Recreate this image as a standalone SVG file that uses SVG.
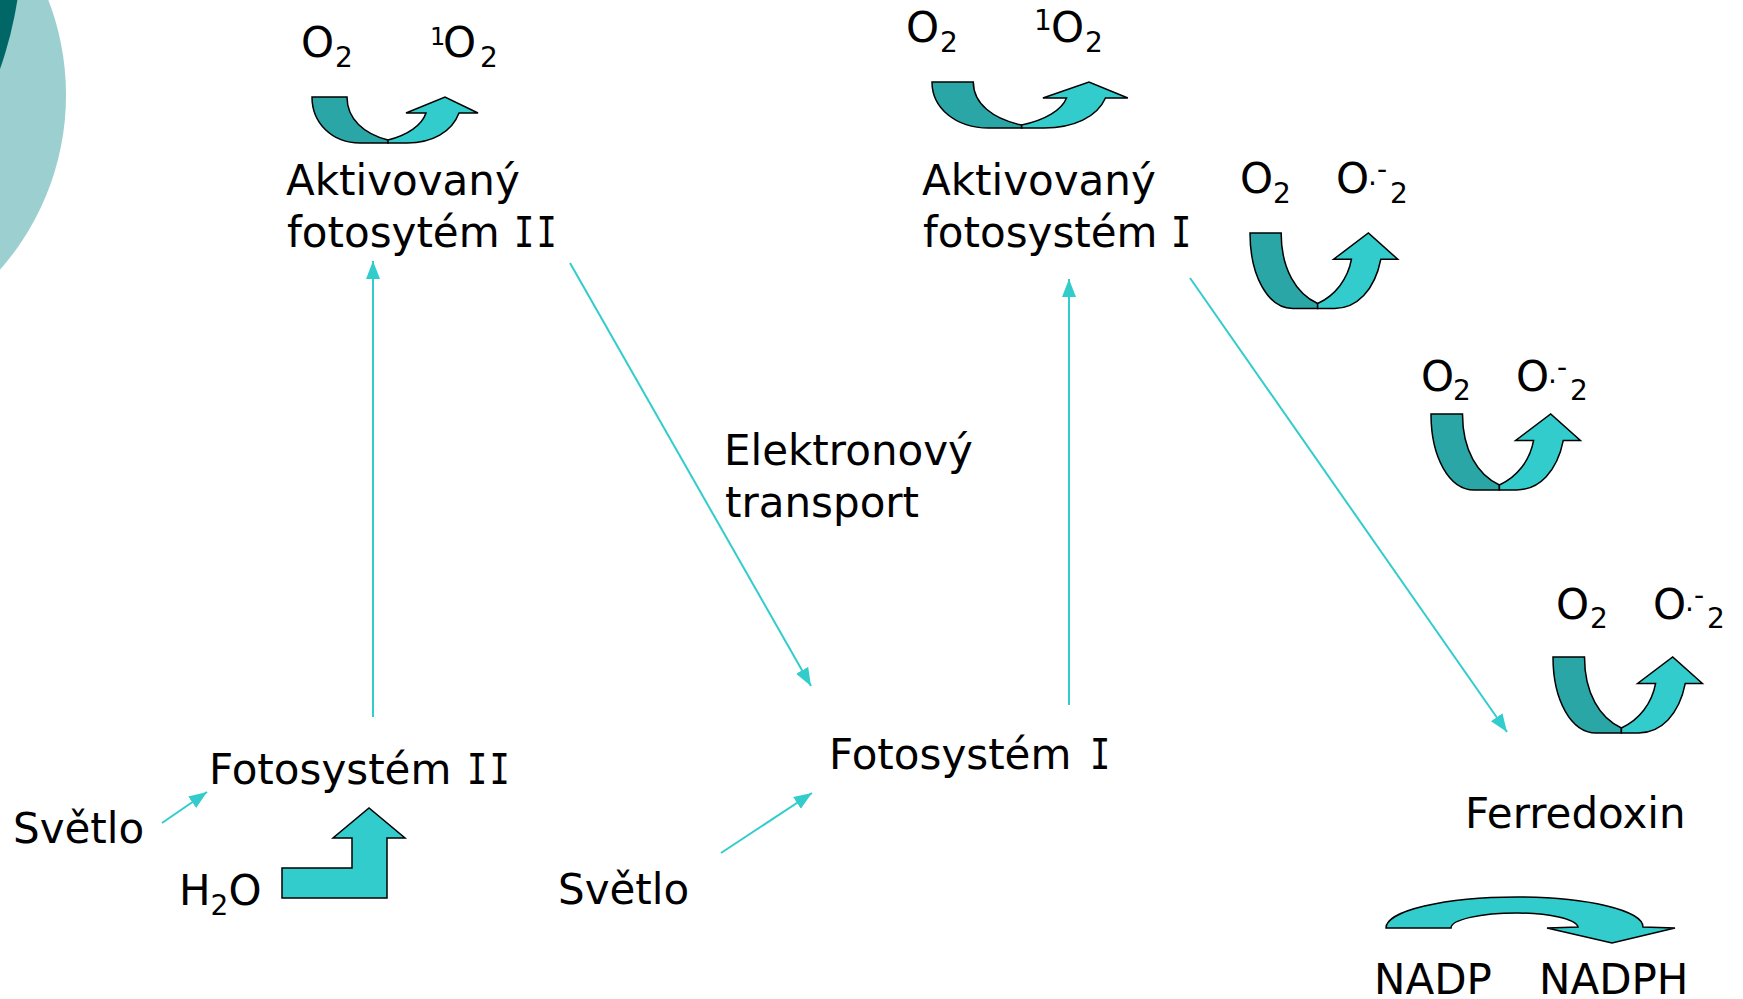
<svg xmlns="http://www.w3.org/2000/svg" xmlns:xlink="http://www.w3.org/1999/xlink" width="1743" height="999" viewBox="0 0 1743 999">
  <style>
    .t { font-family: "DejaVu Sans", Verdana, "Liberation Sans", sans-serif; font-size: 42px; fill: #000; }
    .s { font-size: 28px; }
    .rn { font-family: "DejaVu Sans Mono", "Liberation Mono", monospace; letter-spacing: 3px; }
    .link { stroke: #33CCCC; stroke-width: 2; fill: none; marker-end: url(#head); }
    .band { stroke: #000; stroke-width: 1.5; stroke-linejoin: miter; }
    .back { fill: #2BA6A6; }
    .front { fill: #33CCCC; }
  </style>
  <defs>
    <marker id="head" markerUnits="userSpaceOnUse" markerWidth="20" markerHeight="16" refX="18" refY="7" orient="auto">
      <path d="M0,0 L18,7 L0,14 Z" fill="#33CCCC"/>
    </marker>
    <!-- curved up arrow: shaded back band + front band with head, 166 x 46 base box -->
    <g id="curl">
      <path class="band back" vector-effect="non-scaling-stroke" d="M0,0 L35,0 C35,22 52,37 76,43 L76,46 L48,46 C20,46 0,26 0,0 Z"/>
      <path class="band front" vector-effect="non-scaling-stroke" d="M76,43 C96,38 110,28 114,16 L94,16 L133,0 L166,16 L147,16 C140,35 120,46 95,46 L76,46 Z"/>
    </g>
  </defs>

  <rect width="1743" height="999" fill="#fff"/>

  <!-- corner decoration -->
  <g id="corner">
    <circle cx="-198" cy="95" r="264" fill="#9CCFCF"/>
    <circle cx="-367" cy="-60" r="389" fill="#006666"/>
  </g>

  <!-- connectors -->
  <g id="connectors">
    <line class="link" x1="373" y1="717" x2="373" y2="261"/>
    <line class="link" x1="1069" y1="705" x2="1069" y2="279"/>
    <line class="link" x1="570" y1="263" x2="811" y2="686"/>
    <line class="link" x1="1190" y1="278" x2="1507" y2="732"/>
    <line class="link" x1="162" y1="823" x2="207" y2="792"/>
    <line class="link" x1="721" y1="853" x2="812" y2="793"/>
  </g>

  <!-- PS II activated, singlet oxygen -->
  <g id="ps2-singlet">
    <text class="t" x="301" y="57">O</text>
    <text class="t s" x="335" y="67">2</text>
    <text class="t" x="430" y="45" style="font-size:24px">1</text>
    <text class="t" x="443" y="57">O</text>
    <text class="t s" x="480" y="67">2</text>
    <use xlink:href="#curl" transform="translate(312,97)"/>
  </g>
  <g id="ps2-active">
    <text class="t" x="286" y="195">Aktivovaný</text>
    <text class="t" x="287" y="247">fotosytém</text>
    <text class="t rn" transform="translate(514,247) scale(0.8,1)">II</text>
  </g>

  <!-- PS I activated, singlet oxygen -->
  <g id="ps1-singlet">
    <text class="t" x="906" y="42">O</text>
    <text class="t s" x="940" y="52">2</text>
    <text class="t s" x="1034" y="30">1</text>
    <text class="t" x="1051" y="42">O</text>
    <text class="t s" x="1085" y="52">2</text>
    <use xlink:href="#curl" transform="translate(932,82) scale(1.18,1)"/>
  </g>
  <g id="ps1-active">
    <text class="t" x="922" y="195">Aktivovaný</text>
    <text class="t" x="923" y="247">fotosystém</text>
    <text class="t rn" transform="translate(1171,247) scale(0.8,1)">I</text>
  </g>

  <!-- superoxide formation sites -->
  <g id="superoxide-1">
    <text class="t" x="1240" y="193">O</text>
    <text class="t s" x="1273" y="203">2</text>
    <text class="t" x="1336" y="193">O</text>
    <text class="t s" x="1368" y="185">.</text>
    <text class="t s" x="1377" y="179">-</text>
    <text class="t s" x="1390" y="203">2</text>
    <use xlink:href="#curl" transform="translate(1250,233) scale(0.89,1.64)"/>
  </g>
  <g id="superoxide-2">
    <text class="t" x="1421" y="391">O</text>
    <text class="t s" x="1453" y="400">2</text>
    <text class="t" x="1516" y="391">O</text>
    <text class="t s" x="1548" y="383">.</text>
    <text class="t s" x="1557" y="377">-</text>
    <text class="t s" x="1570" y="400">2</text>
    <use xlink:href="#curl" transform="translate(1431,414) scale(0.9,1.65)"/>
  </g>
  <g id="superoxide-3">
    <text class="t" x="1556" y="619">O</text>
    <text class="t s" x="1590" y="628">2</text>
    <text class="t" x="1653" y="619">O</text>
    <text class="t s" x="1685" y="611">.</text>
    <text class="t s" x="1694" y="605">-</text>
    <text class="t s" x="1707" y="628">2</text>
    <use xlink:href="#curl" transform="translate(1553,657) scale(0.9,1.65)"/>
  </g>

  <!-- ground states -->
  <g id="ps2">
    <text class="t" x="209" y="784">Fotosystém</text>
    <text class="t rn" transform="translate(467,784) scale(0.8,1)">II</text>
  </g>
  <g id="ps1">
    <text class="t" x="829" y="769">Fotosystém</text>
    <text class="t rn" transform="translate(1090,769) scale(0.8,1)">I</text>
  </g>
  <g id="light-1">
    <text class="t" x="13" y="843">Světlo</text>
  </g>
  <g id="light-2">
    <text class="t" x="558" y="904">Světlo</text>
  </g>
  <g id="water">
    <text class="t" x="179" y="905">H<tspan class="s" dy="10">2</tspan><tspan dy="-10">O</tspan></text>
    <path class="band front" d="M282,868 L352,868 L352,838 L333,838 L369,808 L405,838 L387,838 L387,898 L282,898 Z"/>
  </g>
  <g id="electron-transport">
    <text class="t" x="724" y="465">Elektronový</text>
    <text class="t" x="725" y="517">transport</text>
  </g>
  <g id="ferredoxin">
    <text class="t" x="1465" y="828">Ferredoxin</text>
  </g>
  <g id="nadp">
    <path class="band front" d="M1386,928 A131,31 0 0 1 1517,897 A126,30 0 0 1 1643,927 L1675,928 L1612,943 L1547,928 L1578,927 A61,15 0 0 0 1517,913 A66,15 0 0 0 1451,928 Z"/>
    <text class="t" x="1374" y="994">NADP</text>
    <text class="t" x="1539" y="994">NADPH</text>
  </g>
</svg>
